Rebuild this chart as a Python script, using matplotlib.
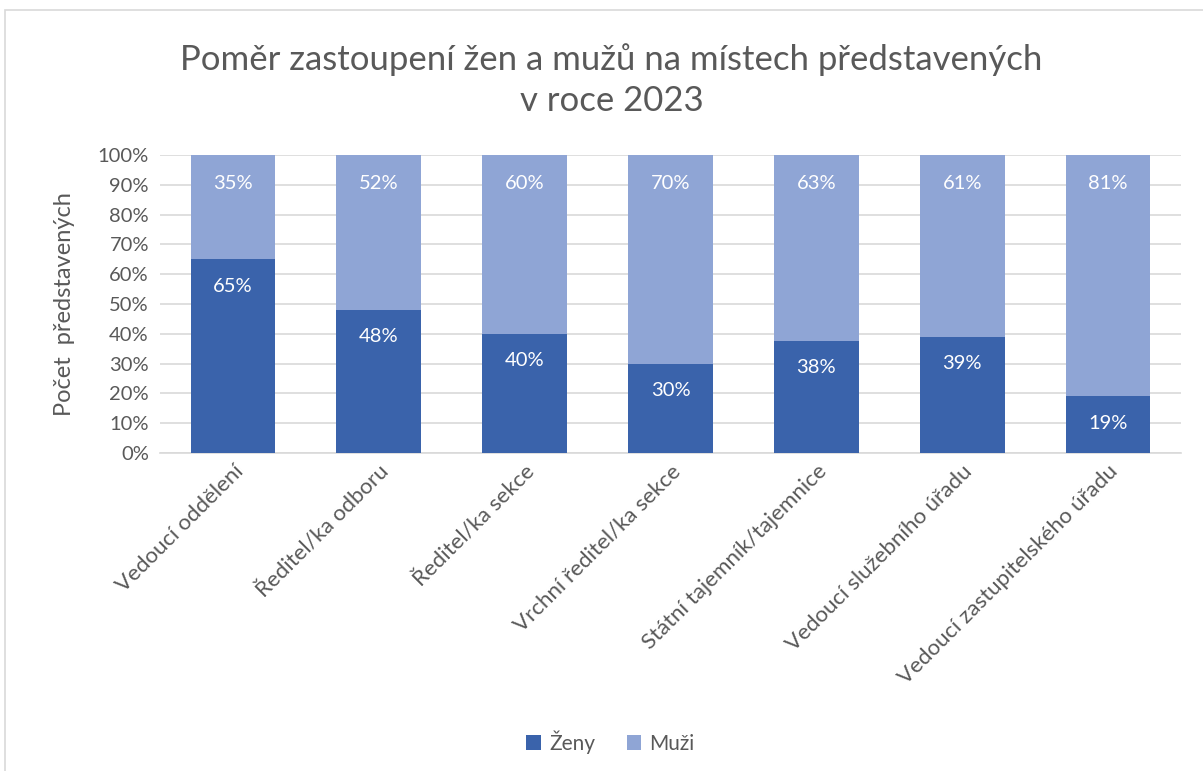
import numpy as np
import matplotlib.pyplot as plt
from matplotlib.patches import Rectangle

plt.rcParams['font.family'] = ['Lato', 'DejaVu Sans']

categories = ['Vedoucí oddělení', 'Ředitel/ka odboru', 'Ředitel/ka sekce',
              'Vrchní ředitel/ka sekce', 'Státní tajemník/tajemnice',
              'Vedoucí služebního úřadu', 'Vedoucí zastupitelského úřadu']
zeny = np.array([65, 48, 40, 30, 38, 39, 19])
muzi = np.array([35, 52, 60, 70, 63, 61, 81])

c_zeny = '#3A63AB'
c_muzi = '#8FA5D5'
gray = '#595959'

total = zeny + muzi
zeny_share = zeny / total * 100
muzi_share = muzi / total * 100

fig = plt.figure(figsize=(12.03, 7.71), dpi=100)
ax = fig.add_axes([160 / 1203, 1 - 453 / 771, 1021 / 1203, 298 / 771])

x = np.arange(len(categories))
ax.bar(x, zeny_share, width=0.58, color=c_zeny, label='Ženy', zorder=3)
ax.bar(x, muzi_share, width=0.58, bottom=zeny_share, color=c_muzi, label='Muži', zorder=3)

for i in range(len(x)):
    ax.text(x[i], zeny_share[i] - 9, f'{zeny[i]}%', ha='center', va='center',
            color='white', fontsize=14.5)
    ax.text(x[i], 100 - 9.5, f'{muzi[i]}%', ha='center', va='center',
            color='white', fontsize=14.5)

ax.set_xlim(-0.5, len(x) - 0.5)
ax.set_ylim(0, 100)
ax.set_yticks(np.arange(0, 101, 10))
ax.set_yticklabels([f'{v}%' for v in range(0, 101, 10)])
ax.yaxis.grid(True, color='#D9D9D9', linewidth=1.2, zorder=0)
ax.set_axisbelow(True)
for s in ax.spines.values():
    s.set_visible(False)
ax.spines['bottom'].set_visible(True)
ax.spines['bottom'].set_color('#D9D9D9')
ax.spines['bottom'].set_linewidth(1.2)
ax.tick_params(axis='y', length=0, labelsize=14.5, colors=gray, pad=8)
ax.tick_params(axis='x', length=0, labelsize=16, colors=gray, pad=6)
ax.set_xticks(x)
ax.set_xticklabels(categories, rotation=45, ha='right', rotation_mode='anchor')
ax.set_ylabel('Počet  představených', fontsize=17, color=gray, labelpad=16)

fig.text(0.5 + 10 / 1203, 1 - 80 / 771,
         'Poměr zastoupení žen a mužů na místech představených\nv roce 2023',
         fontsize=25, color=gray, ha='center', va='center', linespacing=1.36)

ax.legend(loc='center', bbox_to_anchor=(0.5 - 60 / 1021, -0.97), ncol=2, frameon=False,
          fontsize=15, labelcolor=gray, handlelength=0.7, handleheight=0.7,
          columnspacing=1.5, handletextpad=0.4)

fig.patches.append(Rectangle((5 / 1203, -0.1), 1.2, 1 - 10 / 771 + 0.1,
                             transform=fig.transFigure, fill=False,
                             edgecolor='#D9D9D9', linewidth=1.2))

fig.savefig('out.png', dpi=100)
